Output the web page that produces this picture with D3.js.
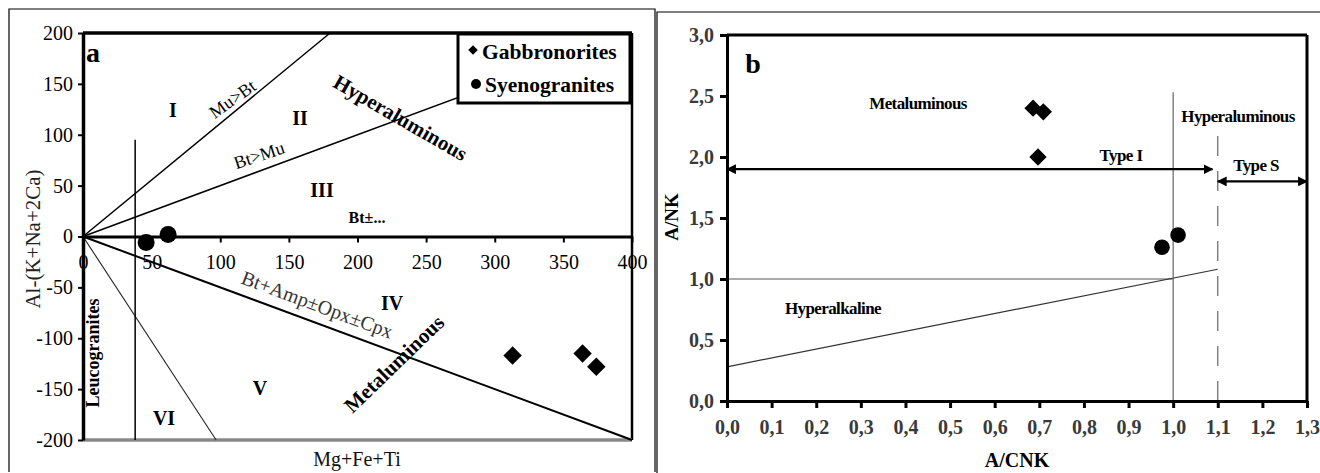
<!DOCTYPE html>
<html>
<head>
<meta charset="utf-8">
<script src="https://cdn.jsdelivr.net/npm/d3@7"></script>
<style>
  html, body { margin: 0; padding: 0; background: #fff; }
  svg { display: block; }
  text { font-family: "Liberation Serif", "Times New Roman", serif; }
</style>
</head>
<body>
<svg id="chart" width="1320" height="473"></svg>
<script>
// ---- Data -----------------------------------------------------------
// Panel a: Al-(K+Na+2Ca) vs Mg+Fe+Ti
const gabbroA = [[313, -117], [364, -115], [374, -128]];
const syenoA  = [[46, -6], [62, 2]];
const ticksAX = [0, 50, 100, 150, 200, 250, 300, 350, 400];
const ticksAY = [-200, -150, -100, -50, 0, 50, 100, 150, 200];
// field boundaries (start, end) in data units
const muBtLine   = [[0, 0], [180, 200]];
const btMuLine   = [[0, 0], [400, 200]];
const btAmpLine  = [[0, 0], [400, -200]];
const viLine     = [[0, 0], [97, -200]];
const leucoLine  = [[38, -200], [38, 95]];

// Panel b: A/NK vs A/CNK
const gabbroB = [[0.686, 2.40], [0.709, 2.37], [0.697, 2.00]];
const syenoB  = [[0.975, 1.26], [1.011, 1.36]];
const ticksBX = [0, 0.1, 0.2, 0.3, 0.4, 0.5, 0.6, 0.7, 0.8, 0.9, 1.0, 1.1, 1.2, 1.3];
const ticksBY = [0, 0.5, 1.0, 1.5, 2.0, 2.5, 3.0];
const ank1Line    = [[0, 1.0], [1.0, 1.0]];
const alkLine     = [[0, 0.28], [1.1, 1.08]];
const acnk1Line   = [[1.0, 0], [1.0, 2.53]];
const acnk11Line  = [[1.1, 0], [1.1, 2.18]];
const typeIArrow  = [[0, 1.9], [1.088, 1.9]];
const typeSArrow  = [[1.1, 1.8], [1.3, 1.8]];

const svg = d3.select("#chart");
const fmtComma = d => d3.format(".1f")(d).replace(".", ",");
const fmtPlain = d => String(d);

// arrowhead marker shared by the double arrows
svg.append("defs").append("marker")
  .attr("id", "arrow").attr("viewBox", "0 0 10 10")
  .attr("refX", 9).attr("refY", 5)
  .attr("markerWidth", 4.5).attr("markerHeight", 4.5)
  .attr("markerUnits", "strokeWidth")
  .attr("orient", "auto-start-reverse")
  .append("path").attr("d", "M0,0 L10,5 L0,10 Z").attr("fill", "#000");

const diamond = d3.symbol().type(d3.symbolSquare);
function drawDiamonds(g, pts, x, y, size) {
  g.selectAll(null).data(pts).join("path")
    .attr("d", diamond.size(size)())
    .attr("transform", d => `translate(${x(d[0])},${y(d[1])}) rotate(45)`)
    .attr("fill", "#000");
}
function drawCircles(g, pts, x, y, r) {
  g.selectAll(null).data(pts).join("circle")
    .attr("cx", d => x(d[0])).attr("cy", d => y(d[1])).attr("r", r)
    .attr("fill", "#000");
}
function seg(g, pts, x, y, attrs) {
  const p = g.append("line")
    .attr("x1", x(pts[0][0])).attr("y1", y(pts[0][1]))
    .attr("x2", x(pts[1][0])).attr("y2", y(pts[1][1]));
  Object.entries(attrs).forEach(([k, v]) => p.attr(k, v));
  return p;
}
function angleOf(pts, x, y) {
  return Math.atan2(y(pts[1][1]) - y(pts[0][1]), x(pts[1][0]) - x(pts[0][0])) * 180 / Math.PI;
}
function label(g, txt, px, py, opts = {}) {
  const t = g.append("text").text(txt)
    .attr("text-anchor", opts.anchor || "middle")
    .attr("font-size", opts.size || 16)
    .attr("font-weight", opts.bold ? "bold" : "normal")
    .attr("fill", opts.fill || "#000")
    .attr("transform", `translate(${px},${py}) rotate(${opts.rot || 0})`);
  if (opts.italic) t.attr("font-style", "italic");
  if (opts.ls) t.attr("letter-spacing", opts.ls);
  return t;
}

// ---- Panel a --------------------------------------------------------
{
  const g = svg.append("g");
  // panel border
  g.append("path").attr("d", "M9,472 V9 H655 V472")
    .attr("fill", "none").attr("stroke", "#000").attr("stroke-width", 1.2);

  const x = d3.scaleLinear().domain([0, 400]).range([83, 632]);
  const y = d3.scaleLinear().domain([-200, 200]).range([440, 33]);

  // frame: top and right edges, grey bottom
  g.append("line").attr("x1", x(0)).attr("x2", x(400)).attr("y1", y(200)).attr("y2", y(200))
    .attr("stroke", "#000").attr("stroke-width", 3.5);
  g.append("line").attr("x1", x(400)).attr("x2", x(400)).attr("y1", y(200)).attr("y2", y(-200))
    .attr("stroke", "#000").attr("stroke-width", 2.5);
  g.append("line").attr("x1", x(0)).attr("x2", x(400)).attr("y1", y(-200)).attr("y2", y(-200))
    .attr("stroke", "#888").attr("stroke-width", 3.5);

  // boundaries
  seg(g, muBtLine, x, y, { stroke: "#000", "stroke-width": 1.5 });
  seg(g, btMuLine, x, y, { stroke: "#000", "stroke-width": 1.5 });
  seg(g, btAmpLine, x, y, { stroke: "#000", "stroke-width": 2 });
  seg(g, viLine, x, y, { stroke: "#222", "stroke-width": 1.1 });
  seg(g, leucoLine, x, y, { stroke: "#000", "stroke-width": 1.5 });

  // x axis along y = 0
  const ax = g.append("g").attr("transform", `translate(0,${y(0)})`)
    .call(d3.axisBottom(x).tickValues(ticksAX).tickFormat(fmtPlain).tickSize(6).tickSizeOuter(0).tickPadding(12));
  ax.select(".domain").attr("stroke-width", 3);
  ax.selectAll(".tick line").attr("stroke-width", 2);
  ax.selectAll("text").attr("font-size", 20).attr("font-family", "Liberation Serif").attr("fill", "#000");

  // y axis
  const ay = g.append("g").attr("transform", `translate(${x(0)},0)`)
    .call(d3.axisLeft(y).tickValues(ticksAY).tickFormat(fmtPlain).tickSize(5).tickSizeOuter(0).tickPadding(5));
  ay.select(".domain").attr("stroke-width", 3.5);
  ay.selectAll(".tick line").attr("stroke-width", 2);
  ay.selectAll("text").attr("font-size", 20).attr("font-family", "Liberation Serif").attr("fill", "#000");

  // axis titles
  label(g, "Al-(K+Na+2Ca)", 40, 239, { size: 21, rot: -90, fill: "#222" });
  label(g, "Mg+Fe+Ti", 357, 466, { size: 20, fill: "#111" });

  // field labels
  label(g, "a", 86, 62, { size: 28, bold: true, anchor: "start" });
  label(g, "I", 173, 117, { size: 20, bold: true });
  label(g, "II", 300, 125, { size: 20, bold: true });
  label(g, "III", 322, 197, { size: 20, bold: true });
  label(g, "IV", 392, 310, { size: 20, bold: true });
  label(g, "V", 260, 395, { size: 20, bold: true });
  label(g, "VI", 164, 425, { size: 20, bold: true });
  label(g, "Bt±...", 367, 223, { size: 16, bold: true });

  const aMu = angleOf(muBtLine, x, y);
  label(g, "Mu>Bt", 236, 104, { size: 18, rot: aMu + 4 });
  const aBt = angleOf(btMuLine, x, y);
  label(g, "Bt>Mu", 261, 161, { size: 18, rot: aBt + 2 });
  const aAmp = angleOf(btAmpLine, x, y);
  label(g, "Bt+Amp±Opx±Cpx", 315, 311, { size: 20, rot: aAmp, fill: "#333" });

  label(g, "Hyperaluminous", 397, 124, { size: 21, bold: true, rot: 30 });
  label(g, "Metaluminous", 399, 369, { size: 21, bold: true, rot: -44 });
  label(g, "Leucogranites", 99, 353, { size: 18, bold: true, rot: -90 });

  // samples
  drawDiamonds(g, gabbroA, x, y, 170);
  drawCircles(g, syenoA, x, y, 8.5);

  // legend
  const lg = g.append("g");
  lg.append("rect").attr("x", 458).attr("y", 34).attr("width", 172).attr("height", 69)
    .attr("fill", "#fff").attr("stroke", "#000").attr("stroke-width", 3);
  lg.append("path").attr("d", diamond.size(45)())
    .attr("transform", "translate(473,50) rotate(45)").attr("fill", "#000");
  lg.append("circle").attr("cx", 476).attr("cy", 84).attr("r", 5).attr("fill", "#000");
  label(lg, "Gabbronorites", 482, 59, { size: 21.5, bold: true, anchor: "start" });
  label(lg, "Syenogranites", 485, 92, { size: 21.5, bold: true, anchor: "start" });
}

// ---- Panel b --------------------------------------------------------
{
  const g = svg.append("g");
  g.append("path").attr("d", "M657,473 V12 H1320")
    .attr("fill", "none").attr("stroke", "#000").attr("stroke-width", 1.2);

  const x = d3.scaleLinear().domain([0, 1.3]).range([727, 1307]);
  const y = d3.scaleLinear().domain([0, 3]).range([401, 35]);

  // frame top / right
  g.append("line").attr("x1", x(0)).attr("x2", x(1.3)).attr("y1", y(3)).attr("y2", y(3))
    .attr("stroke", "#000").attr("stroke-width", 3);
  g.append("line").attr("x1", x(1.3)).attr("x2", x(1.3)).attr("y1", y(3)).attr("y2", y(0))
    .attr("stroke", "#000").attr("stroke-width", 3);

  // field boundaries
  seg(g, ank1Line, x, y, { stroke: "#555", "stroke-width": 1.2 });
  seg(g, alkLine, x, y, { stroke: "#333", "stroke-width": 1.2 });
  seg(g, acnk1Line, x, y, { stroke: "#666", "stroke-width": 1.2 });
  seg(g, acnk11Line, x, y, { stroke: "#666", "stroke-width": 1.2, "stroke-dasharray": "20,15" });
  seg(g, typeIArrow, x, y, { stroke: "#000", "stroke-width": 2.2,
    "marker-start": "url(#arrow)", "marker-end": "url(#arrow)" });
  seg(g, typeSArrow, x, y, { stroke: "#000", "stroke-width": 2.2,
    "marker-start": "url(#arrow)", "marker-end": "url(#arrow)" });

  // axes
  const ax = g.append("g").attr("transform", `translate(0,${y(0)})`)
    .call(d3.axisBottom(x).tickValues(ticksBX).tickFormat(fmtComma).tickSize(7).tickSizeOuter(0).tickPadding(12));
  ax.select(".domain").attr("stroke-width", 3);
  ax.selectAll(".tick line").attr("stroke-width", 3);
  ax.selectAll("text").attr("font-size", 20).attr("font-weight", "bold")
    .attr("font-family", "Liberation Serif").attr("fill", "#3a3a3a");

  const ay = g.append("g").attr("transform", `translate(${x(0)},0)`)
    .call(d3.axisLeft(y).tickValues(ticksBY).tickFormat(fmtComma).tickSize(7).tickSizeOuter(0).tickPadding(6));
  ay.select(".domain").attr("stroke-width", 3);
  ay.selectAll(".tick line").attr("stroke-width", 3);
  ay.selectAll("text").attr("font-size", 20).attr("font-weight", "bold")
    .attr("font-family", "Liberation Serif").attr("fill", "#3a3a3a");

  label(g, "A/NK", 678, 217, { size: 19, bold: true, rot: -90 });
  label(g, "A/CNK", 1017, 467, { size: 20, bold: true });

  label(g, "b", 753, 73, { size: 28, bold: true });
  label(g, "Metaluminous", 918, 109, { size: 17, bold: true, ls: -0.6 });
  label(g, "Hyperaluminous", 1238, 122, { size: 17, bold: true, ls: -0.6 });
  label(g, "Type I", 1121, 161, { size: 17, bold: true, ls: -0.6 });
  label(g, "Type S", 1256, 171, { size: 17, bold: true, ls: -0.6 });
  label(g, "Hyperalkaline", 833, 314, { size: 17, bold: true, ls: -0.6 });

  drawDiamonds(g, gabbroB, x, y, 150);
  drawCircles(g, syenoB, x, y, 7.8);
}
</script>
</body>
</html>
